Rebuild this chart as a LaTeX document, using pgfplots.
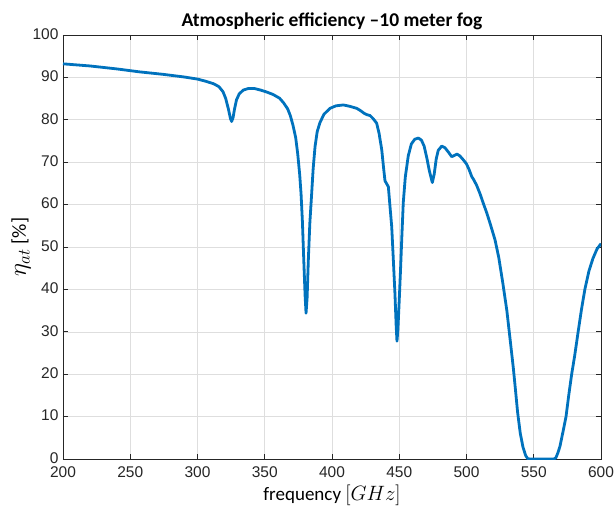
\documentclass[border=0pt]{standalone}
\usepackage{pgfplots}
\pgfplotsset{compat=1.18}
\usepackage{fontspec}
\setmainfont{Liberation Sans}
\newfontfamily\cali{Carlito}
\usetikzlibrary{calc}
\definecolor{mblue}{rgb}{0,0.447,0.741}
\definecolor{axgray}{rgb}{0.15,0.15,0.15}
\begin{document}
\begin{tikzpicture}
\begin{axis}[
  scale only axis,
  width=538pt, height=424pt,
  xmin=200, xmax=600, ymin=0, ymax=100,
  xtick={200,250,...,600}, ytick={0,10,...,100},
  grid=major,
  major grid style={draw=black!13, line width=0.6pt},
  axis line style={draw=axgray, line width=0.7pt},
  tick style={draw=axgray, line width=0.7pt},
  tick align=inside,
  major tick length=5pt,
  xtick pos=both, ytick pos=both,
  /pgf/number format/assume math mode=true,
  /pgf/number format/1000 sep={},
  tick label style={font=\fontsize{15.5}{18}\selectfont, text=axgray},
  xticklabel style={yshift=-4.5pt},
  yticklabel style={xshift=-1pt, yshift=1pt},
  title={\cali\bfseries\fontsize{19.5}{22}\selectfont Atmospheric efficiency –10 meter fog},
  title style={yshift=-4pt},
  xlabel={\cali\fontsize{19}{22}\selectfont frequency {\fontsize{21}{22}\selectfont$[GHz]$}},
  ylabel={\cali\fontsize{20}{22}\selectfont {\fontsize{23}{24}\selectfont$\eta_{at}$} [\%]},
  xlabel style={yshift=0pt},
  ylabel style={yshift=-5pt},
]
\addplot[mblue, line width=2.8pt, line join=round] coordinates {
(200,93.2) (220,92.7) (240,92.0) (257,91.3) (275,90.7) (290,90.1) (300,89.6)
(306,89.1) (312,88.5) (316,87.8) (319,86.6) (321,85.0) (323,82.5) (324.5,80.3)
(325.4,79.6) (326.5,80.6) (327.5,82.5) (329,84.7) (331,86.1) (334,87.0)
(338,87.4) (342,87.4) (347,87.0) (351,86.6) (356,86.0) (361,85.1) (364,84.0)
(367,82.6) (369,81.0) (371,78.7) (373,75.8) (374.5,72.0) (376,67.0)
(377,62.5) (378,56.0) (379,47.0) (380,38.5) (380.7,34.4) (381.5,38.0)
(382.4,46.9) (383.5,55.5) (384.9,62.7) (386,68.5) (387.4,73.7) (389,77.2)
(391,79.3) (394,81.3) (398.5,82.7) (403,83.3) (408.4,83.5) (413,83.2)
(418.4,82.7) (421.5,82.1) (424,81.5) (426,81.2) (428.3,81.0) (430.5,80.3)
(433.2,79.2) (435,76.8) (437,72.9) (438.3,68.8) (439.4,65.6) (440.5,65.0)
(441.9,64.2) (443,60.0) (444.4,54.8) (445.6,47.0) (446.8,39.0) (447.7,31.5)
(448.3,27.8) (449,30.5) (450,37.5) (451,45.0) (452,53.0) (453,60.5)
(454.5,66.5) (456.7,71.5) (459,74.3) (461.5,75.4) (464.2,75.7) (466.5,75.2)
(468.5,73.8) (470.5,71.0) (472.5,67.8) (474.6,65.2) (476,67.2) (477.5,70.8)
(479,72.8) (481.6,73.8) (484,73.4) (486.5,72.4) (489,71.3) (491,71.6)
(493,71.9) (495,71.5) (497.5,70.6) (500,69.6) (502,68.2) (503.9,66.6)
(505.5,65.8) (507.6,64.5) (510,62.6) (512.5,60.3) (515,58.1) (517.5,55.6)
(521.2,51.7) (524,47.5) (527,41.5) (530,35.0) (532.5,28.0) (534.8,21.5)
(536.5,16.0) (538,11.0) (540,6.0) (542,2.8) (544,0.8) (545.5,0.1) (547,0)
(565,0) (566.5,0.3) (568,1.5) (569.5,3.0) (571,5.3) (572.5,7.6) (574,10.0)
(576,15.0) (578.2,20.0) (580.5,24.5) (583,30.0) (585.5,35.3) (588,40.0)
(591,44.3) (594,47.3) (597,49.5) (600,50.8)
};
\end{axis}
\pgfresetboundingbox
\useasboundingbox ($(current axis.south west)+(-63pt,-55pt)$) rectangle ($(current axis.north east)+(14pt,35pt)$);
\end{tikzpicture}
\end{document}
